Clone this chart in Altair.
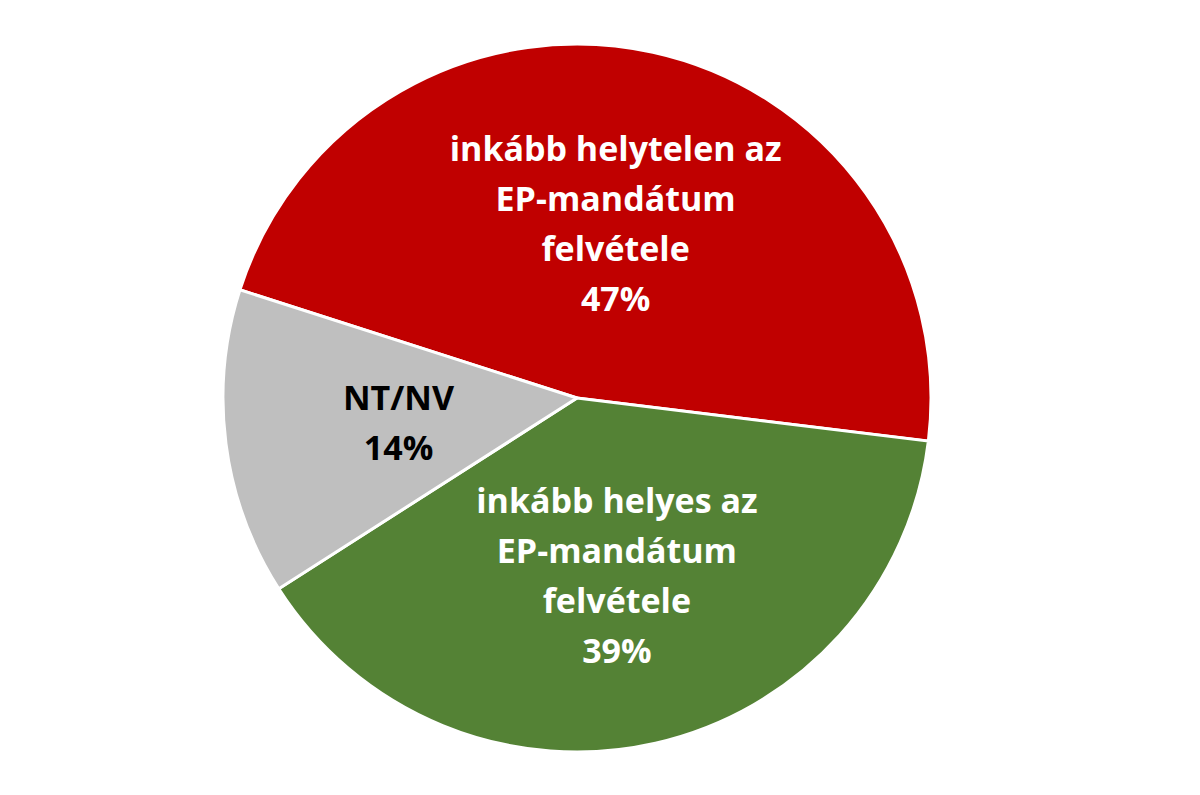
import altair as alt
import pandas as pd

categories = ["inkább helytelen az\nEP-mandátum\nfelvétele", "inkább helyes az\nEP-mandátum\nfelvétele", "NT/NV"]
values = [47, 39, 14]
order = [0, 1, 2]
colors = ["#C00000", "#548235", "#BFBFBF"]
text_colors = ["#FFFFFF", "#FFFFFF", "#000000"]

df = pd.DataFrame({
    "cat": categories,
    "value": values,
    "ord": order,
    "label": [f"{c}\n{v}%" for c, v in zip(categories, values)],
    "tcolor": text_colors,
    "nlines": [len(f"{c}\n{v}%".split("\n")) for c, v in zip(categories, values)],
})

start = 5.023
theta_scale = alt.Scale(range=[start, start + 6.283185])
LH = 50

base = alt.Chart(df).encode(
    theta=alt.Theta("value:Q", stack=True, scale=theta_scale),
    order=alt.Order("ord:Q"),
)

arcs = base.mark_arc(outerRadius=354, stroke="white", strokeWidth=3).encode(
    color=alt.Color("cat:N", scale=alt.Scale(domain=categories, range=colors), legend=None)
)

def text_layer(n):
    return base.mark_text(
        radius=180, lineBreak="\n", font="Open Sans", fontWeight="bold", fontSize=34,
        lineHeight=LH, align="center", baseline="middle", dy=-(n - 1) * LH / 2 + 4
    ).encode(
        text="label:N",
        color=alt.Color("tcolor:N", scale=None),
        opacity=alt.condition(f"datum.nlines == {n}", alt.value(1), alt.value(0)),
    )

chart = alt.layer(arcs, text_layer(4), text_layer(2)).properties(
    width=1138, height=780, padding=0
).configure_view(stroke=None)
chart.save("out.html", embed_options={"renderer": "svg", "actions": False})
